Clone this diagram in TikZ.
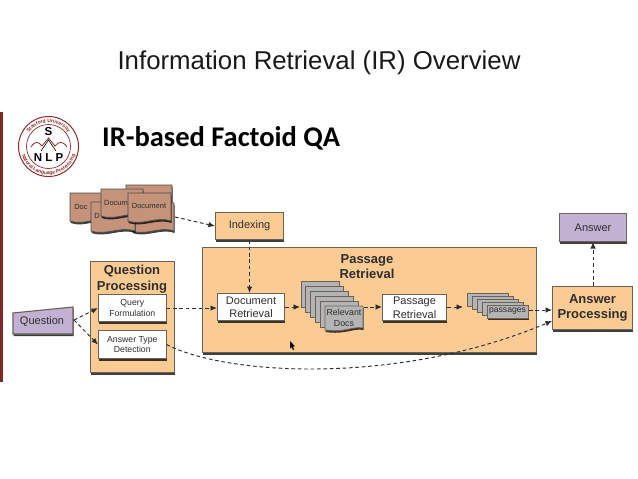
\documentclass[tikz,border=0pt]{standalone}
\usepackage{fontspec}
\setmainfont{Liberation Sans}
\newfontfamily\carl{Carlito}
\usetikzlibrary{shadows,arrows.meta,decorations.text}
\definecolor{org}{HTML}{FBCB94}
\definecolor{pur}{HTML}{C3B1D3}
\definecolor{brn}{HTML}{C4937A}
\definecolor{gry}{HTML}{B4B4B4}
\definecolor{edg}{HTML}{6A6258}
\definecolor{ink}{HTML}{2E2E2E}
\definecolor{logo}{HTML}{8E2B2B}
\tikzset{
  x=1pt,y=-1pt,
  shd/.style={drop shadow={shadow xshift=0.6pt,shadow yshift=-2pt,opacity=.75,fill=black}},
  box/.style={draw=edg,line width=1.1pt,shd,text=ink,align=center,inner sep=0pt,anchor=north west,font=\fontsize{11}{13.5}\selectfont},
  obox/.style={box,fill=org},
  wbox/.style={box,fill=white},
  pbox/.style={box,fill=pur},
  bold/.style={font=\fontsize{13}{15.5}\selectfont\bfseries,text=ink,align=center},
  conn/.style={draw=ink,line width=.95pt,dash pattern=on 3.6pt off 2.8pt,-{Latex[length=6.5pt,width=5.5pt]}},
  card/.style={draw=edg,line width=.7pt,fill=gry},
  docs/.style={draw=black!70,line width=.8pt,fill=brn,shd},
  small/.style={text=ink,inner sep=0pt}
}
\newcommand{\wavy}[5]{% x y w h style
  \path[#5] (#1,#2) -- ++(#3,0) -- ++(0,#4)
    .. controls +(-#3*.35,-5) and +(#3*.35,5) .. ++(-#3,0) -- cycle;}
\begin{document}
\begin{tikzpicture}
\useasboundingbox (0,0) rectangle (638,479);
\fill[white] (0,0) rectangle (638,479);
\fill[logo!90!black] (0,112) rectangle (2.5,382);
\node[font=\fontsize{25.8}{30}\selectfont,text=black!90] (title) at (319,62.5) {Information Retrieval (IR) Overview};
\node[font=\fontsize{28.5}{32}\selectfont\carl\bfseries,anchor=west,inner sep=0pt] (sub) at (102,138) {IR-based Factoid QA};
% logo
\draw[logo,line width=1pt,fill=white] (48.5,146.5) circle (30);
\draw[logo,line width=.7pt] (48.5,146.5) circle (22);
\path[decorate,decoration={text along path,text align=center,text={|\fontsize{5}{6}\selectfont\bfseries\color{logo}|Stanford University}}]
  (24.5,146.5) arc[start angle=180,end angle=360,radius=24];
\path[decorate,decoration={text along path,text align=center,text={|\fontsize{5}{6}\selectfont\bfseries\color{logo}|Natural Language Processing}}]
  (20.5,146.5) arc[start angle=180,end angle=0,radius=28];
\node[font=\fontsize{11.5}{12}\selectfont\bfseries,inner sep=0pt] (lgs) at (48.5,131.5) {S};
\node[font=\fontsize{11.5}{12}\selectfont\bfseries,inner sep=0pt] (lgn) at (48.5,157.5) {N L P};
\draw[logo,line width=.8pt] (31,147) .. controls (35,141) and (38,141) .. (42,146) -- (48.5,138) -- (55,146) .. controls (59,141) and (63,141) .. (67,147);
\draw[black,line width=.6pt] (41,151) -- (48.5,140) -- (56,151);
% documents
\wavy{126}{185}{46}{30}{docs}
\wavy{70}{193}{40}{28}{docs}
\wavy{132}{203}{42}{28}{docs}
\wavy{91}{202}{44}{29}{docs}
\wavy{101}{189}{42}{27}{docs}
\wavy{128}{193}{43}{28}{docs}
\node[small,font=\fontsize{7.5}{9}\selectfont] (d1) at (81,206.5) {Doc};
\node[small,font=\fontsize{7.5}{9}\selectfont] (d2) at (97,216) {D};
\node[small,font=\fontsize{7.5}{9}\selectfont] (d3) at (116,203) {Docum};
\node[small,font=\fontsize{7.5}{9}\selectfont] (d4) at (149,206) {Document};
\coordinate (docsout) at (175,217);
% outer panels
\node[obox,minimum width=334pt,minimum height=105pt] (panel) at (202,247) {};
\node[obox,minimum width=84pt,minimum height=111pt] (qp) at (90,261) {};
\node[bold] (qpt) at (132,279) {Question\\Processing};
\node[bold] (prt) at (367,266.5) {Passage\\Retrieval};
\node[obox,minimum width=68pt,minimum height=27pt] (index) at (215,212) {Indexing};
\node[wbox,minimum width=67.5pt,minimum height=27pt,font=\fontsize{8.7}{10.8}\selectfont] (qf) at (98,294) {Query\\Formulation};
\node[wbox,minimum width=67.5pt,minimum height=28pt,font=\fontsize{8.7}{10.8}\selectfont] (atd) at (98,330) {Answer Type\\Detection};
\node[wbox,minimum width=67pt,minimum height=27pt] (dr) at (217,293) {Document\\Retrieval};
\node[wbox,minimum width=64pt,minimum height=26pt] (pr) at (382,294) {Passage\\Retrieval};
\node[obox,minimum width=80pt,minimum height=43pt,font=\fontsize{13}{15.5}\selectfont\bfseries] (ap) at (552,286) {Answer\\Processing};
\node[pbox,minimum width=67pt,minimum height=28pt] (ans) at (559,213) {Answer};
% question
\path[draw=edg,line width=1.1pt,fill=pur,shd] (13,313) -- (73,307) -- (73,334) -- (13,334) -- cycle;
\node[small,font=\fontsize{11}{13}\selectfont] (q) at (42,322) {Question};
\coordinate (qout) at (74,320);
% relevant docs stack
\foreach \i in {0,...,4}{ \draw[card] (301+4.8*\i,281+5*\i) rectangle ++(38,26); }
\path[card,shd] (325,306) -- (363,306) -- (363,328) .. controls (352,326) and (345,333) .. (325,330) -- cycle;
\node[small,font=\fontsize{8.8}{11}\selectfont,align=center] (rd) at (344,318) {Relevant\\Docs};
\coordinate (rdin) at (300,307);
\coordinate (rdout) at (364,307);
% passages stack
\foreach \i in {0,...,3}{ \draw[card] (467+5*\i,293+3*\i) rectangle ++(41,13); }
\path[card,shd] (487,305) rectangle (528,318);
\node[small,font=\fontsize{8.6}{10}\selectfont] (ps) at (507.5,311.5) {passages};
\coordinate (psin) at (463,307);
\coordinate (psout) at (529,310);
% connectors
\draw[conn] (docsout) -- (index.west);
\draw[conn] (index.south) -- (index.south |- dr.north);
\draw[conn] (qout) -- (qf.west);
\draw[conn] (qout) -- (atd.west);
\draw[conn] (qf.east) -- (dr.west |- qf.east);
\draw[conn] (dr.east |- rdin) -- (rdin);
\draw[conn] (rdout) -- (pr.west |- rdout);
\draw[conn] (pr.east |- psin) -- (psin);
\draw[conn] (psout) -- (ap.west |- psout);
\draw[conn] (atd.east) .. controls (228,376) and (400,385) .. (ap.west |- 0,321);
\draw[conn] (ap.north -| ans.south) -- (ans.south);
% cursor
\fill[black] (290,341) -- (290,348.5) -- (291.6,347) -- (293,350) -- (294,349.5) -- (292.8,346.6) -- (295,346.4) -- cycle;
\end{tikzpicture}
\end{document}
